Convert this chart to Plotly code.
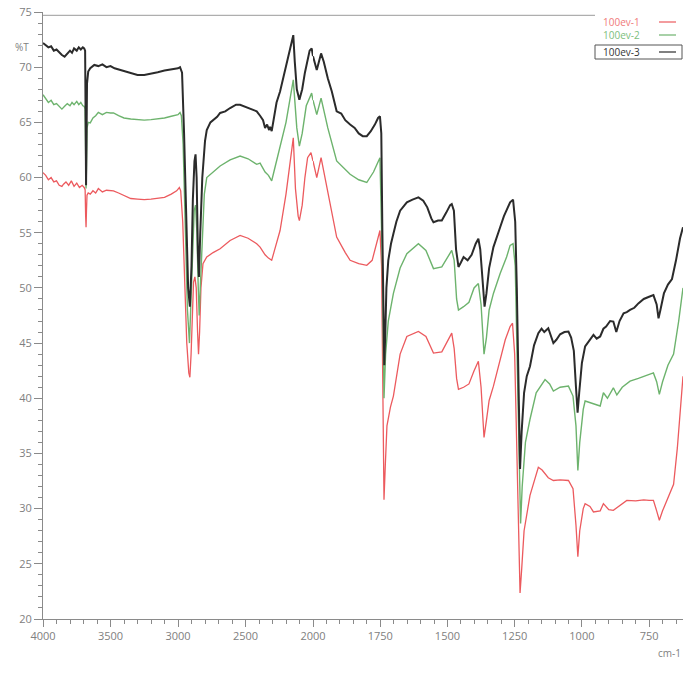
import numpy as np
import plotly.graph_objects as go

# ---------------- data (wavenumber cm-1, %T) ----------------
wn_ev1 = [4000, 3980, 3960, 3940, 3920, 3900, 3880, 3860, 3848, 3830, 3810, 3790, 3770, 3750, 3730, 3710,
          3695, 3688, 3684, 3681, 3678, 3674, 3665, 3650, 3630, 3610, 3590, 3560, 3530, 3500, 3478, 3440,
          3400, 3350, 3300, 3250, 3200, 3150, 3100, 3050, 3010, 2990, 2980, 2965, 2950, 2935, 2920, 2912,
          2903, 2895, 2885, 2875, 2865, 2855, 2848, 2840, 2830, 2815, 2787, 2740, 2688, 2614, 2540, 2481,
          2417, 2392, 2355, 2330, 2306, 2290, 2244, 2200, 2160, 2146, 2130, 2110, 2101, 2080, 2060, 2040,
          2015, 2000, 1986, 1970, 1955, 1935, 1912, 1880, 1862, 1830, 1800, 1780, 1765, 1751, 1745, 1740,
          1736, 1731, 1725, 1712, 1701, 1676, 1651, 1608, 1580, 1552, 1521, 1484, 1475, 1466, 1459, 1440,
          1420, 1401, 1385, 1375, 1364, 1355, 1345, 1329, 1304, 1285, 1267, 1258, 1250, 1242, 1235, 1230,
          1224, 1215, 1193, 1170, 1162, 1148, 1125, 1106, 1081, 1050, 1033, 1022, 1015, 1008, 995, 988,
          970, 957, 932, 920, 900, 883, 860, 833, 800, 770, 750, 734, 722, 712, 700, 680, 659, 645, 635, 624]
t_ev1 = [60.45, 60.2, 59.8, 60.0, 59.6, 59.7, 59.3, 59.2, 59.4, 59.6, 59.3, 59.7, 59.2, 59.5, 59.1, 59.3,
         59.1, 58.9, 56.5, 55.5, 57.0, 58.4, 58.6, 58.5, 58.8, 58.6, 59.0, 58.7, 58.85, 58.8, 58.8, 58.6,
         58.35, 58.1, 58.05, 58.0, 58.05, 58.1, 58.2, 58.5, 58.8, 59.1, 58.8, 56.0, 50.0, 45.0, 42.3, 41.9,
         44.0, 48.0, 50.5, 51.0, 50.0, 46.0, 44.0, 46.0, 50.0, 52.2, 52.8, 53.2, 53.55, 54.3, 54.75, 54.5,
         54.0, 53.7, 53.0, 52.7, 52.5, 53.2, 55.2, 58.5, 62.0, 63.6, 59.0, 56.5, 56.1, 57.5, 60.0, 61.8,
         62.25, 61.5, 60.0, 61.8, 60.0, 57.5, 54.6, 53.2, 52.5, 52.2, 52.05, 52.5, 54.0, 55.2, 52.0, 40.0,
         30.8, 34.0, 37.5, 39.2, 40.2, 44.0, 45.6, 46.05, 45.6, 44.1, 44.2, 45.9, 44.5, 41.8, 40.8, 41.0,
         41.3, 42.5, 43.35, 41.0, 36.45, 38.0, 39.8, 41.1, 43.5, 45.3, 46.5, 46.8, 44.0, 35.0, 25.0, 22.35,
         24.5, 28.0, 31.2, 33.0, 33.75, 33.5, 32.8, 32.55, 32.6, 32.55, 31.8, 28.5, 25.65, 28.0, 30.0, 30.45,
         30.2, 29.7, 29.8, 30.45, 29.9, 29.85, 30.3, 30.75, 30.7, 30.8, 30.75, 30.75, 29.8, 28.95, 29.8, 31.0,
         32.2, 35.5, 38.5, 42.0]

wn_ev2 = [4000, 3980, 3960, 3940, 3920, 3900, 3880, 3860, 3840, 3820, 3800, 3785, 3770, 3750, 3735, 3720,
          3705, 3695, 3688, 3684, 3681, 3678, 3674, 3665, 3650, 3630, 3610, 3590, 3560, 3530, 3500, 3478,
          3440, 3400, 3350, 3300, 3250, 3200, 3150, 3100, 3050, 3000, 2985, 2975, 2962, 2945, 2930, 2915,
          2903, 2892, 2880, 2870, 2860, 2850, 2843, 2835, 2820, 2805, 2787, 2740, 2688, 2614, 2540, 2481,
          2417, 2392, 2355, 2330, 2306, 2290, 2244, 2200, 2146, 2120, 2101, 2080, 2050, 2010, 2000, 1986,
          1970, 1945, 1912, 1862, 1830, 1800, 1775, 1751, 1742, 1736, 1730, 1720, 1701, 1676, 1651, 1608,
          1580, 1552, 1521, 1484, 1475, 1466, 1459, 1440, 1420, 1401, 1385, 1375, 1364, 1355, 1345, 1329,
          1304, 1280, 1267, 1256, 1248, 1240, 1232, 1228, 1222, 1210, 1193, 1170, 1137, 1120, 1106, 1081,
          1050, 1033, 1022, 1015, 1008, 995, 988, 960, 932, 920, 905, 883, 870, 850, 821, 790, 760, 734,
          722, 712, 700, 680, 659, 640, 624]
t_ev2 = [67.5, 67.2, 66.8, 67.0, 66.6, 66.7, 66.4, 66.2, 66.45, 66.7, 66.5, 66.8, 66.6, 66.9, 66.6, 66.8,
         66.5, 66.45, 66.2, 63.0, 59.0, 61.0, 64.5, 65.0, 64.95, 65.4, 65.6, 65.9, 65.7, 65.9, 65.85, 65.85,
         65.6, 65.4, 65.3, 65.25, 65.2, 65.25, 65.3, 65.4, 65.55, 65.7, 65.9, 65.6, 63.0, 55.0, 48.0, 45.0,
         49.0, 54.0, 57.0, 57.5, 55.0, 50.0, 47.5, 50.0, 55.0, 58.5, 60.0, 60.5, 61.05, 61.6, 61.95, 61.7,
         61.2, 61.3, 60.5, 60.2, 59.7, 60.5, 62.7, 65.0, 68.85, 64.5, 62.85, 64.0, 66.5, 67.65, 67.0, 65.7,
         67.2, 64.5, 61.5, 60.3, 59.8, 59.55, 60.5, 61.8, 52.0, 40.0, 44.0, 47.0, 49.5, 51.8, 53.1, 54.0,
         53.4, 51.75, 51.9, 53.4, 52.5, 49.0, 48.0, 48.3, 48.7, 50.0, 50.4, 48.5, 44.0, 45.5, 48.0, 49.5,
         51.3, 52.8, 53.85, 54.0, 52.0, 42.0, 32.0, 28.65, 32.0, 36.0, 38.1, 40.5, 41.7, 41.3, 40.65, 41.0,
         41.1, 40.2, 37.5, 33.45, 36.0, 39.0, 39.75, 39.5, 39.3, 40.5, 40.0, 40.95, 40.3, 41.0, 41.55, 41.8,
         42.1, 42.3, 41.5, 40.35, 41.5, 43.0, 44.0, 47.0, 50.0]

wn_ev3 = [4000, 3980, 3960, 3940, 3920, 3900, 3880, 3860, 3840, 3820, 3800, 3785, 3770, 3750, 3735, 3720,
          3705, 3695, 3688, 3684, 3681, 3678, 3674, 3665, 3650, 3620, 3590, 3560, 3530, 3500, 3470, 3440,
          3400, 3350, 3300, 3250, 3200, 3150, 3100, 3050, 3000, 2985, 2970, 2955, 2940, 2925, 2912, 2900,
          2890, 2878, 2870, 2862, 2852, 2845, 2835, 2820, 2800, 2787, 2760, 2740, 2710, 2688, 2650, 2614,
          2570, 2540, 2500, 2450, 2417, 2392, 2370, 2355, 2340, 2325, 2318, 2306, 2290, 2270, 2244, 2220,
          2200, 2175, 2160, 2146, 2135, 2120, 2101, 2080, 2060, 2040, 2025, 2010, 2000, 1986, 1978, 1970,
          1960, 1945, 1930, 1912, 1895, 1880, 1862, 1845, 1830, 1815, 1800, 1785, 1770, 1758, 1751, 1746,
          1742, 1738, 1735, 1731, 1727, 1720, 1710, 1701, 1690, 1676, 1651, 1630, 1608, 1590, 1575, 1560,
          1552, 1535, 1521, 1505, 1490, 1484, 1476, 1468, 1459, 1450, 1440, 1425, 1410, 1395, 1385, 1378,
          1370, 1362, 1355, 1345, 1329, 1315, 1304, 1290, 1267, 1256, 1248, 1242, 1236, 1230, 1224, 1215,
          1205, 1193, 1178, 1162, 1150, 1140, 1125, 1115, 1106, 1095, 1081, 1065, 1050, 1040, 1030, 1022,
          1016, 1010, 1000, 988, 970, 957, 945, 932, 920, 910, 895, 883, 872, 860, 845, 833, 821, 805,
          790, 770, 750, 734, 722, 715, 708, 695, 680, 665, 650, 635, 624]
t_ev3 = [72.2, 72.0, 71.8, 71.9, 71.5, 71.6, 71.3, 71.1, 70.95, 71.2, 71.5, 71.3, 71.7, 71.5, 71.8, 71.6,
         71.8, 71.7, 71.5, 65.0, 59.3, 63.0, 68.5, 69.6, 69.9, 70.2, 70.1, 70.25, 70.0, 70.1, 69.9, 69.8,
         69.6, 69.45, 69.3, 69.3, 69.4, 69.55, 69.7, 69.8, 69.9, 70.0, 69.5, 64.0, 56.0, 50.0, 48.3, 52.0,
         58.0, 61.5, 62.1, 60.0, 53.0, 51.0, 55.0, 60.0, 63.3, 64.3, 65.0, 65.2, 65.5, 65.85, 66.0, 66.3,
         66.6, 66.6, 66.4, 66.2, 66.0, 65.6, 65.2, 64.5, 64.8, 64.3, 64.6, 64.2, 65.5, 66.8, 67.8, 69.0,
         70.0, 71.2, 72.0, 72.9, 70.5, 68.0, 67.05, 68.0, 69.5, 70.8, 71.5, 71.7, 71.0, 69.75, 70.5, 71.25,
         70.5, 69.0, 67.8, 66.0, 65.8, 65.2, 64.8, 64.5, 64.0, 63.75, 63.75, 64.2, 64.8, 65.4, 65.55, 64.0,
         55.0, 46.0, 43.0, 46.0, 50.0, 52.5, 54.0, 54.9, 56.0, 57.0, 57.75, 58.0, 58.2, 57.9, 57.3, 56.3,
         55.95, 56.1, 56.1, 56.8, 57.5, 57.6, 57.0, 53.5, 51.9, 52.3, 52.8, 52.5, 53.0, 54.0, 54.45, 53.5,
         50.5, 48.3, 49.5, 51.8, 53.7, 54.8, 55.5, 56.5, 57.75, 58.0, 56.0, 50.0, 40.0, 33.6, 37.0, 40.5,
         42.0, 42.9, 44.8, 45.9, 46.3, 46.0, 46.35, 45.6, 45.0, 45.3, 45.8, 46.0, 46.05, 45.5, 44.3, 41.0,
         38.7, 40.5, 43.2, 44.7, 45.3, 45.75, 45.4, 45.6, 46.3, 46.5, 47.0, 46.95, 46.0, 47.0, 47.7, 47.8,
         48.0, 48.2, 48.6, 49.0, 49.2, 49.35, 48.5, 47.25, 48.0, 49.5, 50.3, 50.8, 52.5, 54.5, 55.5]

series_names = ["100ev-1", "100ev-2", "100ev-3"]
series_colors = ["#ec5a5e", "#6db36d", "#2b2b2b"]
series_widths = [1.3, 1.4, 2.0]

ticks_high = [4000, 3500, 3000, 2500, 2000]
ticks_low = [1750, 1500, 1250, 1000, 750]
y_ticks = [20, 25, 30, 35, 40, 45, 50, 55, 60, 65, 70, 75]

# ---------------- figure ----------------
SPLIT = 270.0 / 640.0
fig = go.Figure()
for wn, t, name, col, w in zip([wn_ev1, wn_ev2, wn_ev3], [t_ev1, t_ev2, t_ev3],
                                series_names, series_colors, series_widths):
    wn = np.array(wn, dtype=float)
    t = np.array(t, dtype=float)
    hi = wn >= 2000
    lo = wn <= 2000
    fig.add_trace(go.Scatter(x=wn[hi], y=t[hi], mode="lines", name=name, showlegend=False,
                             line=dict(color=col, width=w), xaxis="x", yaxis="y"))
    fig.add_trace(go.Scatter(x=wn[lo], y=t[lo], mode="lines", name=name, showlegend=False,
                             line=dict(color=col, width=w), xaxis="x2", yaxis="y"))

axcol = "#8a8a8a"
tfont = dict(family="Open Sans, DejaVu Sans, sans-serif", size=11, color="#808080")

common_x = dict(showline=True, linecolor=axcol, linewidth=1, ticks="outside", ticklen=7,
                tickcolor=axcol, showgrid=False, zeroline=False, tickfont=tfont, anchor="y",
                automargin=False)

fig.update_layout(
    width=683, height=673,
    margin=dict(l=43, r=0, t=12, b=54, autoexpand=False),
    paper_bgcolor="white", plot_bgcolor="white",
    showlegend=False,
    xaxis=dict(domain=[0, SPLIT], range=[4000, 2000], tickmode="array", tickvals=ticks_high,
               ticktext=[str(v) for v in ticks_high],
               minor=dict(ticks="outside", ticklen=4, dtick=100, tick0=0, tickcolor=axcol),
               **common_x),
    xaxis2=dict(domain=[SPLIT, 1], range=[2000, 624], tickmode="array", tickvals=ticks_low,
                ticktext=[str(v) for v in ticks_low],
                minor=dict(ticks="outside", ticklen=4, dtick=50, tick0=0, tickcolor=axcol),
                **common_x),
    yaxis=dict(range=[20, 75], tickmode="array", tickvals=y_ticks, ticktext=[str(v) for v in y_ticks],
               showline=True, linecolor=axcol, linewidth=1, ticks="outside", ticklen=8,
               tickcolor=axcol, showgrid=False, zeroline=False, tickfont=tfont, anchor="x",
               automargin=False,
               minor=dict(ticks="outside", ticklen=4, dtick=1, tick0=0, tickcolor=axcol)),
)

# top frame line
fig.add_shape(type="line", xref="paper", yref="y", x0=0, x1=(595 - 43) / 640, y0=74.7, y1=74.7,
              line=dict(color="#9a9a9a", width=1))

# labels
fig.add_annotation(text="%T", xref="paper", yref="paper", x=-0.018, y=(619 - 38) / 607,
                   showarrow=False, xanchor="right", font=dict(family="Open Sans, sans-serif", size=10, color="#808080"))
fig.add_annotation(text="cm-1", xref="paper", yref="paper", x=1.0, y=(619 - 662) / 607,
                   showarrow=False, xanchor="right", font=dict(family="Open Sans, sans-serif", size=10, color="#808080"))

# legend drawn as text + sample lines
leg_y = [22, 35, 52]
leg_txt_col = ["#f07a7a", "#7cc07c", "#333333"]
for name, ty, tc, col in zip(series_names, leg_y, leg_txt_col, series_colors):
    yp = (619 - ty) / 607
    fig.add_annotation(text=name, xref="paper", yref="paper", x=(601 - 43) / 640, y=yp,
                       showarrow=False, xanchor="left", yanchor="middle",
                       font=dict(family="Open Sans, sans-serif", size=10, color=tc))
    fig.add_shape(type="line", xref="paper", yref="paper", x0=(659 - 43) / 640, x1=(676 - 43) / 640,
                  y0=yp, y1=yp, line=dict(color=col, width=1.2))
fig.add_shape(type="rect", xref="paper", yref="paper", x0=(595 - 43) / 640, x1=(682 - 43) / 640,
              y0=(619 - 59) / 607, y1=(619 - 45) / 607, line=dict(color="#555555", width=1))

fig.write_html("out.html", config={"displayModeBar": False},
               post_script="document.body.style.margin='0';document.body.style.overflow='hidden';")
